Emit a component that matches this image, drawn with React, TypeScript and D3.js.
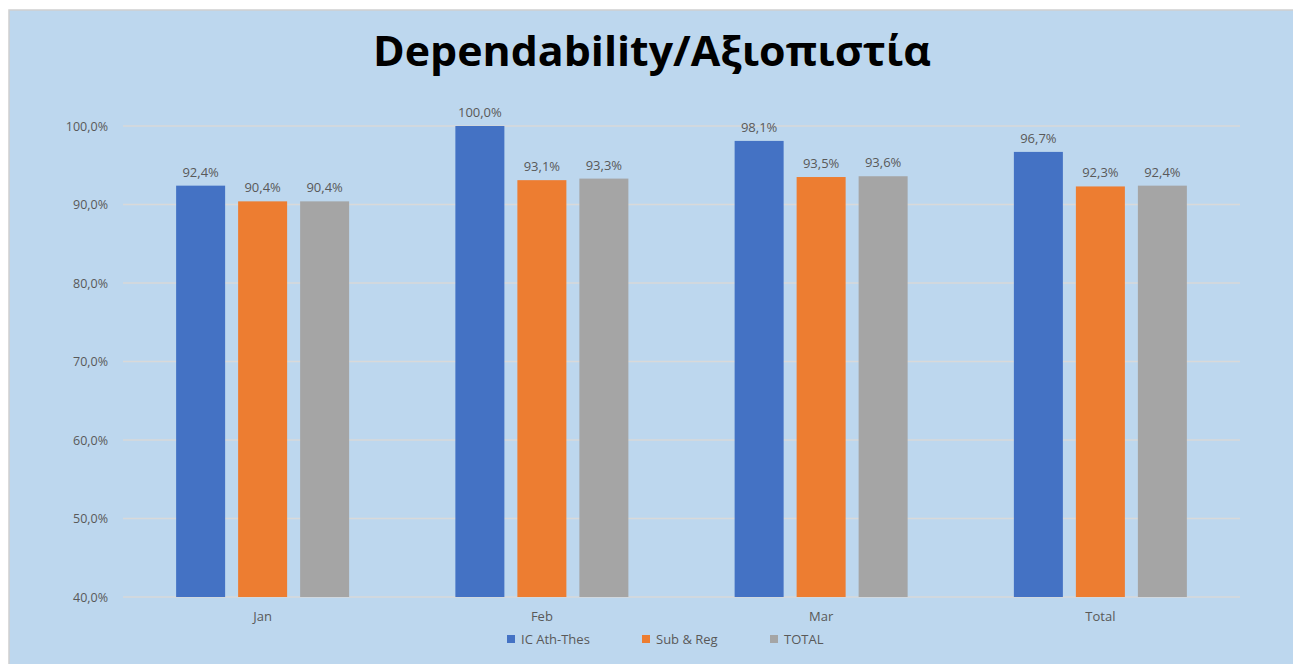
import React from "react";
import * as d3 from "d3";

const categories = ["Jan", "Feb", "Mar", "Total"];
const seriesNames = ["IC Ath-Thes", "Sub & Reg", "TOTAL"];
const icAthThes = [92.4, 100.0, 98.1, 96.7];
const subReg = [90.4, 93.1, 93.5, 92.3];
const totalVals = [90.4, 93.3, 93.6, 92.4];
const yTicks = [40, 50, 60, 70, 80, 90, 100];
const colors = ["#4472C4", "#ED7D31", "#A5A5A5"];

const W = 1293;
const H = 664;
const plot = { left: 123, right: 1240, top: 126, bottom: 597 };

const fmt = (v: number) => v.toFixed(1).replace(".", ",") + "%";

export default function App() {
  const series = [icAthThes, subReg, totalVals];
  const x = d3.scaleBand<string>().domain(categories).range([plot.left, plot.right]);
  const y = d3.scaleLinear().domain([40, 100]).range([plot.bottom, plot.top]);
  const inner = d3.scaleBand<number>().domain([0, 1, 2]).range([-86.5, 86.5]).paddingInner(13 / 62).paddingOuter(0);
  const barW = inner.bandwidth();
  const font = "Open Sans, sans-serif";
  const legendX = [507, 642, 770];

  return (
    <svg width={W} height={H} style={{ position: "absolute", left: 0, top: 0 }}>
      <rect x={0} y={0} width={W} height={H} fill="#ffffff" />
      <rect x={9} y={10} width={W} height={H} fill="#BDD7EE" stroke="#D0D0D0" strokeWidth={1.5} />
      <text x={652} y={66} textAnchor="middle" fontFamily={font} fontWeight="bold" fontSize={42} textLength={558} lengthAdjust="spacingAndGlyphs" fill="#000">
        Dependability/Αξιοπιστία
      </text>
      {yTicks.map((t) => (
        <g key={t}>
          <line x1={plot.left} x2={plot.right} y1={y(t)} y2={y(t)} stroke="#D9D9D9" strokeWidth={1.3} />
          <text x={108} y={y(t) + 4.5} textAnchor="end" fontFamily={font} fontSize={12.5} fill="#595959">
            {fmt(t)}
          </text>
        </g>
      ))}
      {categories.map((c, ci) => {
        const cx = (x(c) as number) + x.bandwidth() / 2;
        return (
          <g key={c}>
            {series.map((s, si) => {
              const bx = cx + (inner(si) as number);
              return (
                <g key={si}>
                  <rect x={bx} y={y(s[ci])} width={barW} height={plot.bottom - y(s[ci])} fill={colors[si]} />
                  <text x={bx + barW / 2} y={y(s[ci]) - 9} textAnchor="middle" fontFamily={font} fontSize={13} fill="#595959">
                    {fmt(s[ci])}
                  </text>
                </g>
              );
            })}
            <text x={cx} y={621} textAnchor="middle" fontFamily={font} fontSize={13} fill="#595959">
              {c}
            </text>
          </g>
        );
      })}
      {seriesNames.map((n, i) => (
        <g key={n}>
          <rect x={legendX[i]} y={635} width={8} height={8} fill={colors[i]} />
          <text x={legendX[i] + 14} y={643.5} fontFamily={font} fontSize={13} fill="#595959">
            {n}
          </text>
        </g>
      ))}
    </svg>
  );
}
